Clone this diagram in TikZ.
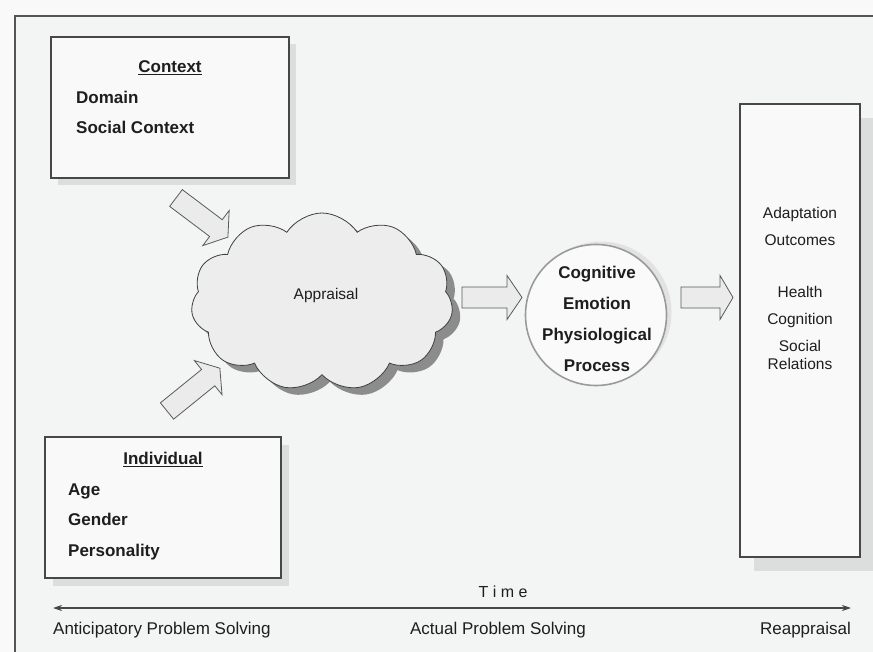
\documentclass[tikz,border=0pt]{standalone}
\usepackage{fontspec}
\setmainfont{Liberation Sans}
\usetikzlibrary{shapes.symbols,shadows,arrows.meta}
\definecolor{pagebg}{HTML}{F9F9F9}
\definecolor{framebg}{HTML}{F3F4F4}
\definecolor{framel}{HTML}{555555}
\definecolor{boxfill}{HTML}{F9F9F9}
\definecolor{boxline}{HTML}{474747}
\definecolor{shadowlt}{HTML}{DCDDDD}
\definecolor{cloudfill}{HTML}{EDEDED}
\definecolor{cloudshadow}{HTML}{8C8C8C}
\definecolor{arrowfill}{HTML}{EBEBEB}
\definecolor{arrowline}{HTML}{5A5A5A}
\definecolor{circline}{HTML}{9A9A9A}
\definecolor{circshadow}{HTML}{E2E2E2}
\definecolor{ink}{HTML}{1E1E1E}
\newcommand\myblockarrow[5]{% x, y, angle, length, head length
  \begin{scope}[shift={(#1,#2)},rotate=#3]
    \draw[barrow] (0,-10.5) -- (#4-#5,-10.5) -- (#4-#5,-22) -- (#4,0)
      -- (#4-#5,22) -- (#4-#5,10.5) -- (0,10.5) -- cycle;
  \end{scope}}
\begin{document}
\begin{tikzpicture}[x=1pt,y=-1pt,
  panel/.style={draw=boxline, line width=1.6pt, fill=boxfill, rectangle, inner sep=0pt},
  boldlbl/.style={inner sep=0pt, text=ink, text height=0.716em, text depth=0pt,
    font=\fontsize{17}{20}\selectfont\bfseries},
  plainlbl/.style={inner sep=0pt, text=ink, text height=0.716em, text depth=0pt,
    font=\fontsize{15.5}{18}\selectfont},
  timelbl/.style={inner sep=0pt, text=ink, text height=0.716em, text depth=0pt,
    font=\fontsize{17}{20}\selectfont},
  barrow/.style={draw=arrowline, line width=0.8pt, fill=arrowfill, line join=miter},
  axisline/.style={draw=boxline, line width=1.5pt, {Stealth[length=9pt,width=6pt]}-{Stealth[length=9pt,width=6pt]}}
]
\clip (0,0) rectangle (873,652);
\useasboundingbox (0,0) rectangle (873,652);
% background and frame
\fill[pagebg] (0,0) rectangle (873,652);
\fill[framebg] (15,16) rectangle (873,652);
\draw[framel, line width=1.2pt] (15,652) -- (15,16) -- (873,16);

% context box
\node[panel, minimum width=238pt, minimum height=141pt,
  drop shadow={shadow xshift=7pt, shadow yshift=-7pt, fill=shadowlt, opacity=1}]
  (ctx) at (170,107.5) {};
\node[boldlbl] (ctxt) at (170,69) {\underline{Context}};
\node[boldlbl, anchor=west] (dom) at (76,100) {Domain};
\node[boldlbl, anchor=west] (soc) at (76,130) {Social Context};

% individual box
\node[panel, minimum width=236pt, minimum height=141pt,
  drop shadow={shadow xshift=8pt, shadow yshift=-8pt, fill=shadowlt, opacity=1}]
  (ind) at (163,507.5) {};
\node[boldlbl] (indt) at (163,461) {\underline{Individual}};
\node[boldlbl, anchor=west] (age) at (68,492) {Age};
\node[boldlbl, anchor=west] (gen) at (68,522) {Gender};
\node[boldlbl, anchor=west] (per) at (68,553) {Personality};

% outcome box
\node[panel, minimum width=120pt, minimum height=453pt,
  drop shadow={shadow xshift=14pt, shadow yshift=-14pt, fill=shadowlt, opacity=1}]
  (out) at (800,330.5) {};
\node[plainlbl] (o1) at (800,215) {Adaptation};
\node[plainlbl] (o2) at (800,242) {Outcomes};
\node[plainlbl] (o3) at (800,294) {Health};
\node[plainlbl] (o4) at (800,321) {Cognition};
\node[plainlbl] (o5) at (800,348) {Social};
\node[plainlbl] (o6) at (800,366) {Relations};

% cloud
\node[cloud, cloud puffs=11, cloud puff arc=115, aspect=1.45,
  draw=black!75, line width=0.8pt, fill=cloudfill,
  minimum width=262pt, minimum height=178pt, inner sep=0pt,
  drop shadow={shadow xshift=8pt, shadow yshift=-7pt, fill=cloudshadow, opacity=1}]
  (cl) at (322,302) {};
\node[plainlbl] (appr) at (326,296) {Appraisal};

% circle
\node[circle, minimum size=141pt, inner sep=0pt, fill=white!98!black,
  draw=circline, line width=1.6pt,
  drop shadow={shadow xshift=5pt, shadow yshift=3pt, fill=circshadow, opacity=1}]
  (proc) at (596,315) {};
\node[boldlbl] (c1) at (597,275) {Cognitive};
\node[boldlbl] (c2) at (597,306) {Emotion};
\node[boldlbl] (c3) at (597,337) {Physiological};
\node[boldlbl] (c4) at (597,368) {Process};

% block arrows
\myblockarrow{176}{198}{-37}{65}{15}
\myblockarrow{167}{411}{39}{68}{15}
\myblockarrow{462}{297.5}{0}{60}{15}
\myblockarrow{681}{297.5}{0}{52}{13}

% time axis
\coordinate (tl) at (53,608);
\coordinate (tr) at (851,608);
\draw[axisline] (tl) -- (tr);
\node[plainlbl, font=\fontsize{16}{18}\selectfont] (time) at (503,594) {T i m e};
\node[timelbl, anchor=west] (t1) at (53,631) {Anticipatory Problem Solving};
\node[timelbl] (t2) at (498,631) {Actual Problem Solving};
\node[timelbl, anchor=east] (t3) at (851,631) {Reappraisal};
\end{tikzpicture}
\end{document}
